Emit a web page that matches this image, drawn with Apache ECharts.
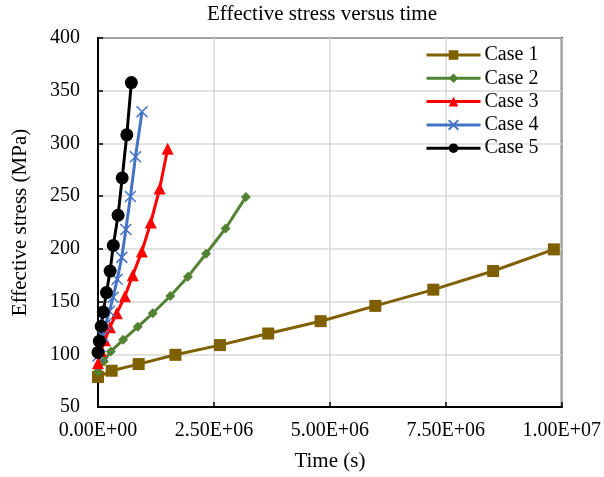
<!DOCTYPE html>
<html>
<head>
<meta charset="utf-8">
<script src="https://cdn.jsdelivr.net/npm/echarts@6/dist/echarts.min.js"></script>
<style>
  html, body { margin: 0; padding: 0; background: #fff; }
  #chart { width: 604px; height: 477px; }
</style>
</head>
<body>
<div id="chart"></div>
<script>
// Time (s) and effective stress (MPa) for each case
const case1Time = [0, 2.95e5, 8.77e5, 1.67e6, 2.63e6, 3.67e6, 4.80e6, 5.98e6, 7.23e6, 8.52e6, 9.83e6];
const case1Stress = [78.4, 84.4, 90.7, 99.5, 108.7, 119.7, 131.4, 145.9, 161.3, 179, 199.5];

const case2Time = [0, 1.28e5, 2.76e5, 5.42e5, 8.57e5, 1.18e6, 1.56e6, 1.94e6, 2.33e6, 2.75e6, 3.19e6];
const case2Stress = [84, 93.5, 102.7, 113.7, 126, 138.9, 155.3, 173.6, 195.4, 219.3, 249.3];

const case3Time = [0, 6.4e4, 1.48e5, 2.56e5, 4.04e5, 5.81e5, 7.49e5, 9.46e5, 1.138e6, 1.33e6, 1.502e6];
const case3Stress = [91.6, 103, 113.4, 125.7, 138.9, 155, 174.9, 197.6, 225, 257.2, 295];

const case4Time = [0, 4.3e4, 9.9e4, 1.67e5, 2.46e5, 3.25e5, 4.14e5, 5.12e5, 6.01e5, 6.99e5, 8.08e5, 9.5e5];
const case4Stress = [98.3, 107.7, 117.2, 128.5, 140.8, 154.1, 171.1, 191.9, 218.4, 249.6, 287.4, 330];

const case5Time = [0, 3e4, 6.9e4, 1.13e5, 1.82e5, 2.61e5, 3.30e5, 4.33e5, 5.22e5, 6.21e5, 7.19e5];
const case5Stress = [101.8, 112.4, 126.6, 140.2, 158.5, 178.9, 203.3, 231.9, 267.3, 308.2, 357.7];

const caseNames = ['Case 1', 'Case 2', 'Case 3', 'Case 4', 'Case 5'];

// Axis tick labels
const xTickLabels = ['0.00E+00', '2.50E+06', '5.00E+06', '7.50E+06', '1.00E+07'];
const yTickLabels = ['50', '100', '150', '200', '250', '300', '350', '400'];

const FONT = 'Liberation Serif';
const crossPath = 'path://M0,0L10,10M10,0L0,10';

function pairs(t, s) { return t.map((v, i) => [v, s[i]]); }

const seriesDefs = [
  { data: pairs(case1Time, case1Stress), color: '#7F6000', symbol: 'rect', size: 12 },
  { data: pairs(case2Time, case2Stress), color: '#548235', symbol: 'diamond', size: 10 },
  { data: pairs(case3Time, case3Stress), color: '#FF0000', symbol: 'triangle', size: 12 },
  { data: pairs(case4Time, case4Stress), color: '#4472C4', symbol: crossPath, size: 11, stroke: true },
  { data: pairs(case5Time, case5Stress), color: '#000000', symbol: 'circle', size: 13 }
];

const chart = echarts.init(document.getElementById('chart'), null, { renderer: 'canvas' });

chart.setOption({
  animation: false,
  backgroundColor: '#fff',
  title: {
    text: 'Effective stress versus time',
    left: 322,
    textAlign: 'center',
    top: 4,
    padding: 0,
    textStyle: { fontFamily: FONT, fontSize: 21, fontWeight: 'normal', color: '#000' }
  },
  grid: {
    left: 98, right: 40, top: 38, bottom: 69,
    show: true, borderColor: '#000', borderWidth: 2, backgroundColor: 'transparent'
  },
  legend: {
    orient: 'vertical',
    left: 425,
    top: 45,
    padding: 0,
    itemWidth: 54,
    itemHeight: 12,
    itemGap: 3.3,
    data: caseNames,
    lineStyle: { width: 3 },
    textStyle: { fontFamily: FONT, fontSize: 20, lineHeight: 20, color: '#000', padding: [0, 0, 0, -1] }
  },
  xAxis: {
    type: 'value',
    min: 0, max: 1e7, interval: 2.5e6,
    name: 'Time (s)',
    nameLocation: 'middle',
    nameGap: 44,
    nameTextStyle: { fontFamily: FONT, fontSize: 21, color: '#000' },
    axisLine: { show: true, lineStyle: { color: '#000', width: 2 } },
    axisTick: { show: true, inside: true, length: 5, lineStyle: { color: '#000', width: 1.5 } },
    axisLabel: {
      fontFamily: FONT, fontSize: 20, color: '#000', margin: 14,
      formatter: v => xTickLabels[Math.round(v / 2.5e6)]
    },
    splitLine: { show: true, lineStyle: { color: '#D9D9D9', width: 1.5 } }
  },
  yAxis: {
    type: 'value',
    min: 50, max: 400, interval: 50,
    name: 'Effective stress (MPa)',
    nameLocation: 'middle',
    nameGap: 67,
    nameTextStyle: { fontFamily: FONT, fontSize: 21, color: '#000' },
    axisLine: { show: true, lineStyle: { color: '#000', width: 2 } },
    axisTick: { show: true, inside: true, length: 5, lineStyle: { color: '#000', width: 1.5 } },
    axisLabel: {
      fontFamily: FONT, fontSize: 20, color: '#000', margin: 18,
      formatter: v => yTickLabels[Math.round((v - 50) / 50)]
    },
    splitLine: { show: true, lineStyle: { color: '#D9D9D9', width: 1.5 } }
  },
  series: seriesDefs.map((d, i) => ({
    name: caseNames[i],
    type: 'line',
    data: d.data,
    symbol: d.symbol,
    symbolSize: d.size,
    showAllSymbol: true,
    lineStyle: { color: d.color, width: 3 },
    itemStyle: d.stroke
      ? { color: d.color, borderColor: d.color, borderWidth: 1.5 }
      : { color: d.color, borderWidth: 0 },
    emphasis: { disabled: true }
  }))
});
</script>
</body>
</html>
